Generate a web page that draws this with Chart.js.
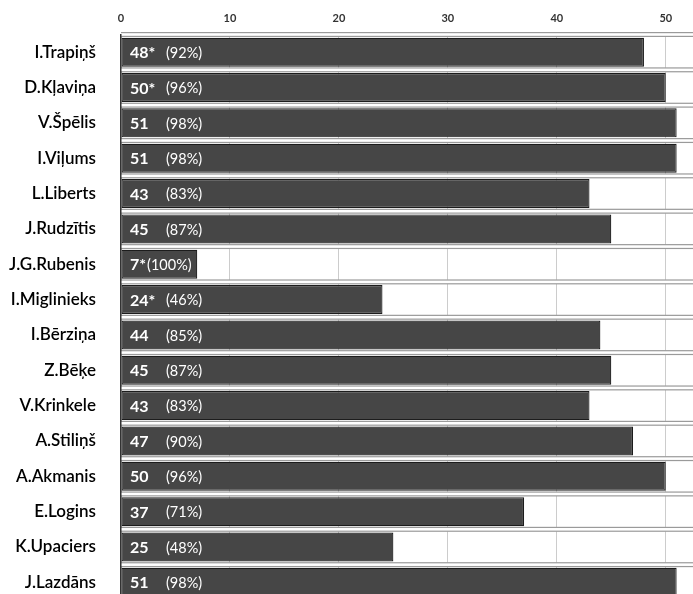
<!DOCTYPE html>
<html>
<head>
<meta charset="utf-8">
<script src="https://cdn.jsdelivr.net/npm/chart.js@4.4.1/dist/chart.umd.min.js"></script>
<style>
html,body{margin:0;padding:0;background:#fff;overflow:hidden;}
#wrap{width:693px;height:600px;position:relative;}
</style>
</head>
<body>
<div id="wrap"><canvas id="c" width="693" height="600"></canvas></div>
<script>
const categories = ["I.Trapiņš","D.Kļaviņa","V.Špēlis","I.Viļums","L.Liberts","J.Rudzītis","J.G.Rubenis","I.Miglinieks","I.Bērziņa","Z.Bēķe","V.Krinkele","A.Stiliņš","A.Akmanis","E.Logins","K.Upaciers","J.Lazdāns"];
const values = [48,50,51,51,43,45,7,24,44,45,43,47,50,37,25,51];
const marks = ["*","*","","","","","*","*","","","","","","","",""];
const percents = [92,96,98,98,83,87,100,46,85,87,83,90,96,71,48,98];
const xTicks = [0,10,20,30,40,50];

const separatorPlugin = {
  id:'separators',
  beforeDatasetsDraw(chart){
    const ctx = chart.ctx, ys = chart.scales.y, a = chart.chartArea;
    ctx.save();
    for(let i=0;i<=categories.length;i++){
      const y = (i===0) ? a.top : (i===categories.length ? a.bottom : (ys.getPixelForValue(i-1)+ys.getPixelForValue(i))/2);
      ctx.fillStyle = '#ffffff';
      ctx.fillRect(a.left, y-2, a.right-a.left, 4);
      ctx.fillStyle = '#9a9a9a';
      ctx.fillRect(a.left, y-2.5, a.right-a.left, 1.2);
      ctx.fillRect(a.left, y+1.3, a.right-a.left, 1.2);
    }
    ctx.restore();
  }
};

const labelPlugin = {
  id:'barLabels',
  afterDatasetsDraw(chart){
    const ctx = chart.ctx;
    const meta = chart.getDatasetMeta(0);
    const x0 = chart.scales.x.getPixelForValue(0);
    ctx.save();
    ctx.fillStyle = '#fff';
    ctx.textBaseline = 'middle';
    meta.data.forEach((bar,i)=>{
      const y = bar.y;
      ctx.font = 'bold 16px Lato, "Open Sans", sans-serif';
      const t = String(values[i]) + marks[i];
      ctx.fillText(t, x0+9, y+1);
      const w = ctx.measureText(t).width;
      ctx.font = '14.5px Lato, "Open Sans", sans-serif';
      const p = '(' + percents[i] + '%)';
      const pw = ctx.measureText(p).width;
      let px = x0+45;
      if (px + pw > bar.x - 3) px = x0+9+w+1;
      ctx.fillText(p, px, y+1);
    });
    ctx.restore();
  }
};

new Chart(document.getElementById('c'), {
  type:'bar',
  data:{
    labels: categories,
    datasets:[{
      data: values,
      backgroundColor:'#464646',
      borderColor:'#1c1c1c',
      borderWidth:1.2,
      borderSkipped:false,
      categoryPercentage:1,
      barPercentage:0.82
    }]
  },
  options:{
    indexAxis:'y',
    responsive:false,
    animation:false,
    layout:{padding:0},
    plugins:{legend:{display:false},tooltip:{enabled:false}},
    scales:{
      x:{
        position:'top',
        min:0,max:52.5,
        z:1,
        afterBuildTicks(s){ s.ticks = xTicks.map(v=>({value:v})); },
        afterFit(s){ s.height = 34.5; s.paddingLeft = 0; s.paddingRight = 0; },
        ticks:{includeBounds:false,stepSize:10,padding:9,color:'#333',font:{family:'Lato, "Open Sans", sans-serif',size:11,weight:'bold'}},
        grid:{color:'rgba(0,0,0,0.2)',lineWidth:1,drawTicks:false},
        border:{display:false}
      },
      y:{
        offset:true,
        afterFit(s){ s.width = 121; s.paddingTop = 0; s.paddingBottom = 0; },
        ticks:{padding:17,color:'#000',font:{family:'Lato, "Open Sans", sans-serif',size:17,weight:600}},
        grid:{display:false},
        border:{display:true,color:'#333',width:1.5,z:2}
      }
    }
  },
  plugins:[separatorPlugin,labelPlugin]
});
</script>
</body>
</html>
